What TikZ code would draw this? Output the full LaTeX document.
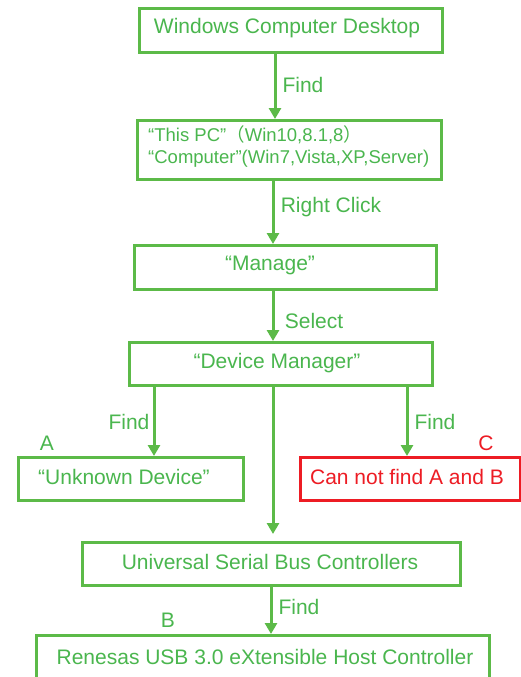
\documentclass[tikz,border=0pt]{standalone}
\usepackage{fontspec}
\setmainfont{Liberation Sans}
\newfontfamily\cjkfont{Noto Sans CJK SC}
\usetikzlibrary{arrows.meta}
\definecolor{fg}{RGB}{92,186,72}
\definecolor{ftxt}{RGB}{74,182,78}
\definecolor{fred}{RGB}{237,28,36}
\begin{document}
\begin{tikzpicture}[x=1pt,y=-1pt,
  box/.style={draw=fg, line width=3pt, inner sep=0pt, anchor=north west},
  redbox/.style={draw=fred, line width=3pt, inner sep=0pt, anchor=north west},
  txt/.style={text=ftxt, font=\fontsize{21}{25}\selectfont, inner sep=0pt},
  redtxt/.style={text=fred, font=\fontsize{21}{25}\selectfont, inner sep=0pt},
  arr/.style={draw=fg, line width=3pt, -{Triangle[width=12pt,length=11pt]}},
]
\clip (0,0) rectangle (521,677);
\fill[white] (0,0) rectangle (521,677);
% boxes
\node[box, minimum width=303pt, minimum height=44pt] (b1) at (138,7) {};
\node[box, minimum width=304pt, minimum height=59pt] (b2) at (136,119) {};
\node[box, minimum width=302pt, minimum height=44pt] (b3) at (133,244) {};
\node[box, minimum width=303pt, minimum height=43pt] (b4) at (128,341) {};
\node[box, minimum width=225pt, minimum height=43pt] (b5) at (17,456) {};
\node[redbox, minimum width=220pt, minimum height=43pt] (b6) at (299,456) {};
\node[box, minimum width=378pt, minimum height=43pt] (b7) at (81,541) {};
\node[box, minimum width=453pt, minimum height=66pt] (b8) at (35,634) {};
% box texts
\node[txt] (t1) at (287,28) {Windows Computer Desktop};
\node[txt, anchor=west, align=left, font=\fontsize{18.5}{22}\selectfont] (t2) at (148,147) {“This PC”{\cjkfont （}Win10,8.1,8{\cjkfont ）}\\“Computer”(Win7,Vista,XP,Server)};
\node[txt] (t3) at (270,265) {“Manage”};
\node[txt] (t4) at (277,363) {“Device Manager”};
\node[txt] (t5) at (124,477) {“Unknown Device”};
\node[redtxt] (t6) at (407,477) {Can not find A and B};
\node[txt] (t7) at (270,562) {Universal Serial Bus Controllers};
\node[txt] (t8) at (265,657) {Renesas USB 3.0 eXtensible Host Controller};
% connectors
\draw[arr] (b1.south -| 275,0) -- (b2.north -| 275,0);
\draw[arr] (b2.south -| 273,0) -- (b3.north -| 273,0);
\draw[arr] (b3.south -| 273,0) -- (b4.north -| 273,0);
\draw[arr] (b4.south -| 154,0) -- (b5.north -| 154,0);
\draw[arr] (b4.south -| 407,0) -- (b6.north -| 407,0);
\draw[arr, shorten >=7pt] (b4.south -| 273,0) -- (b7.north -| 273,0);
\draw[arr] (b7.south -| 271,0) -- (b8.north -| 271,0);
% labels
\node[txt] (l1) at (303,85) {Find};
\node[txt] (l2) at (331,207) {Right Click};
\node[txt] (l3) at (314,321) {Select};
\node[txt] (l4) at (129,422) {Find};
\node[txt] (l5) at (435,422) {Find};
\node[txt] (lA) at (47,443) {A};
\node[redtxt] (lC) at (486,443) {C};
\node[txt] (l6) at (299,607) {Find};
\node[txt] (lB) at (168,620) {B};
\end{tikzpicture}
\end{document}
